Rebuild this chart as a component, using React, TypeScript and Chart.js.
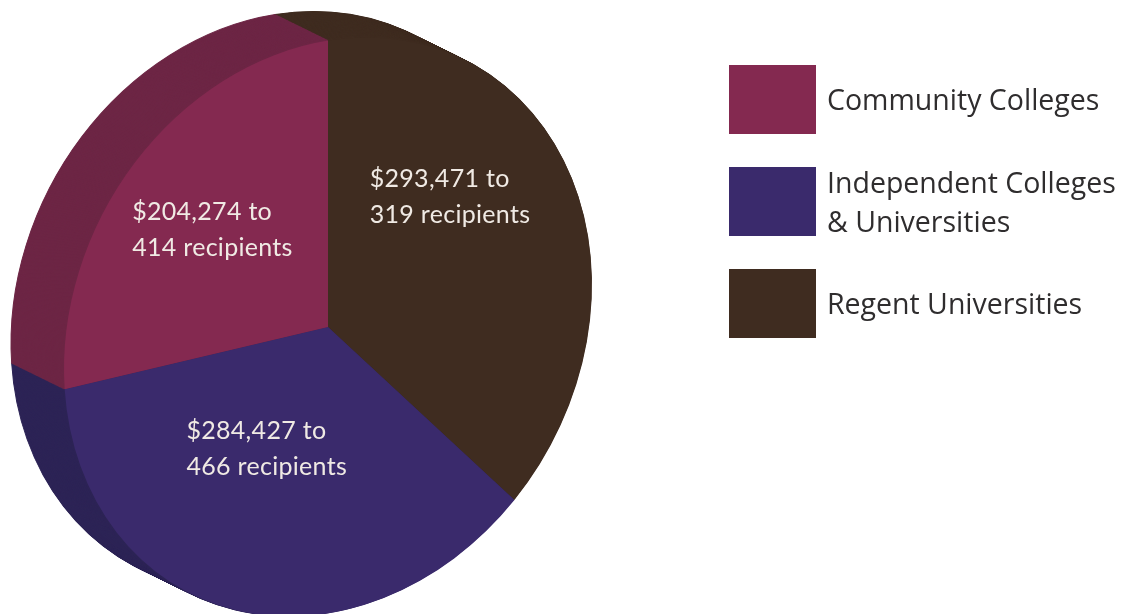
import React, { useEffect, useRef } from "react";
import { Chart, registerables } from "chart.js";

Chart.register(...registerables);

// Slices run clockwise from twelve o'clock.
const categories = ["Regent Universities", "Independent Colleges & Universities", "Community Colleges"];
const amounts = [293471, 284427, 204274];
const recipients = [319, 466, 414];
const faceColors = ["#3f2c20", "#3a2a6c", "#842950"];
const sideColors = ["#3f2c20", "#2d2456", "#6d2645"];

// Legend rows, top to bottom.
const legendOrder = [2, 1, 0];
const legendLines = [["Community Colleges"], ["Independent Colleges", "& Universities"], ["Regent Universities"]];

// Oblique projection of the disc and its extruded depth.
const SKEW_Y = -0.16;
const SCALE_Y = 1.085;
const DEPTH_X = -53;
const DEPTH_Y = -26;
const DEPTH_STEPS = 60;

// Shift of each value label from its slice's centre point.
const labelShift = [
  [0, -56],
  [-15, -20],
  [-19, -15],
];

function project(ctx: CanvasRenderingContext2D, cx: number, cy: number) {
  ctx.translate(cx, cy);
  ctx.transform(1, SKEW_Y, 0, SCALE_Y, 0, 0);
  ctx.translate(-cx, -cy);
}

const obliquePie = {
  id: "obliquePie",
  beforeDatasetsDraw(chart: any) {
    const { ctx } = chart;
    const arcs = chart.getDatasetMeta(0).data;
    const { x: cx, y: cy } = arcs[0];

    // The side wall: the same slices repeated from the back plane forward.
    for (let step = DEPTH_STEPS; step >= 1; step--) {
      const t = step / DEPTH_STEPS;
      ctx.save();
      ctx.translate(DEPTH_X * t, DEPTH_Y * t);
      project(ctx, cx, cy);
      arcs.forEach((arc: any, i: number) => {
        const wall = Object.create(arc);
        wall.options = { ...arc.options, backgroundColor: sideColors[i], borderColor: sideColors[i], borderWidth: 1 };
        wall.draw(ctx);
      });
      ctx.restore();
    }

    ctx.save();
    project(ctx, cx, cy);
  },
  afterDatasetsDraw(chart: any) {
    const { ctx } = chart;
    ctx.restore();

    const arcs = chart.getDatasetMeta(0).data;
    const { x: cx, y: cy } = arcs[0];
    ctx.save();
    ctx.font = '400 25px "Lato"';
    ctx.fillStyle = "#f0eae4";
    ctx.textAlign = "left";
    ctx.textBaseline = "middle";
    ctx.letterSpacing = "0.3px";
    arcs.forEach((arc: any, i: number) => {
      const c = arc.getCenterPoint();
      const dx = c.x - cx;
      const dy = c.y - cy;
      const x = cx + dx + labelShift[i][0];
      const y = cy + SKEW_Y * dx + SCALE_Y * dy + labelShift[i][1];
      const first = `$${amounts[i].toLocaleString("en-US")} to`;
      const second = `${recipients[i]} recipients`;
      const left = x - Math.max(ctx.measureText(first).width, ctx.measureText(second).width) / 2;
      ctx.fillText(first, left, y - 18);
      ctx.fillText(second, left, y + 18);
    });
    ctx.restore();
  },
};

export default function App() {
  const canvasRef = useRef<HTMLCanvasElement>(null);

  useEffect(() => {
    const chart = new Chart(canvasRef.current!, {
      type: "pie",
      data: {
        labels: categories,
        datasets: [
          {
            data: amounts,
            backgroundColor: faceColors,
            borderColor: faceColors,
            borderWidth: 0,
            clip: false,
          } as any,
        ],
      },
      options: {
        responsive: false,
        animation: false,
        layout: { padding: { left: 64, right: 532, top: 63, bottom: 23 } },
        plugins: { legend: { display: false }, tooltip: { enabled: false } },
      },
      plugins: [obliquePie],
    });
    return () => chart.destroy();
  }, []);

  return (
    <div style={{ position: "absolute", left: 0, top: 0, width: 1124, height: 614, background: "#fff", overflow: "hidden" }}>
      <canvas ref={canvasRef} width={1124} height={614} style={{ display: "block" }} />
      <div style={{ position: "absolute", left: 729, top: 65 }}>
        {legendOrder.map((idx, row) => (
          <div key={idx} style={{ display: "flex", alignItems: "center", height: 69, marginBottom: 33 }}>
            <div style={{ width: 87, height: 69, background: faceColors[idx], flex: "none" }} />
            <div
              style={{
                marginLeft: 11,
                font: '28.5px/39px "Open Sans", sans-serif',
                color: "#2f2d2e",
                whiteSpace: "nowrap",
              }}
            >
              {legendLines[row].map((line) => (
                <div key={line}>{line}</div>
              ))}
            </div>
          </div>
        ))}
      </div>
    </div>
  );
}
